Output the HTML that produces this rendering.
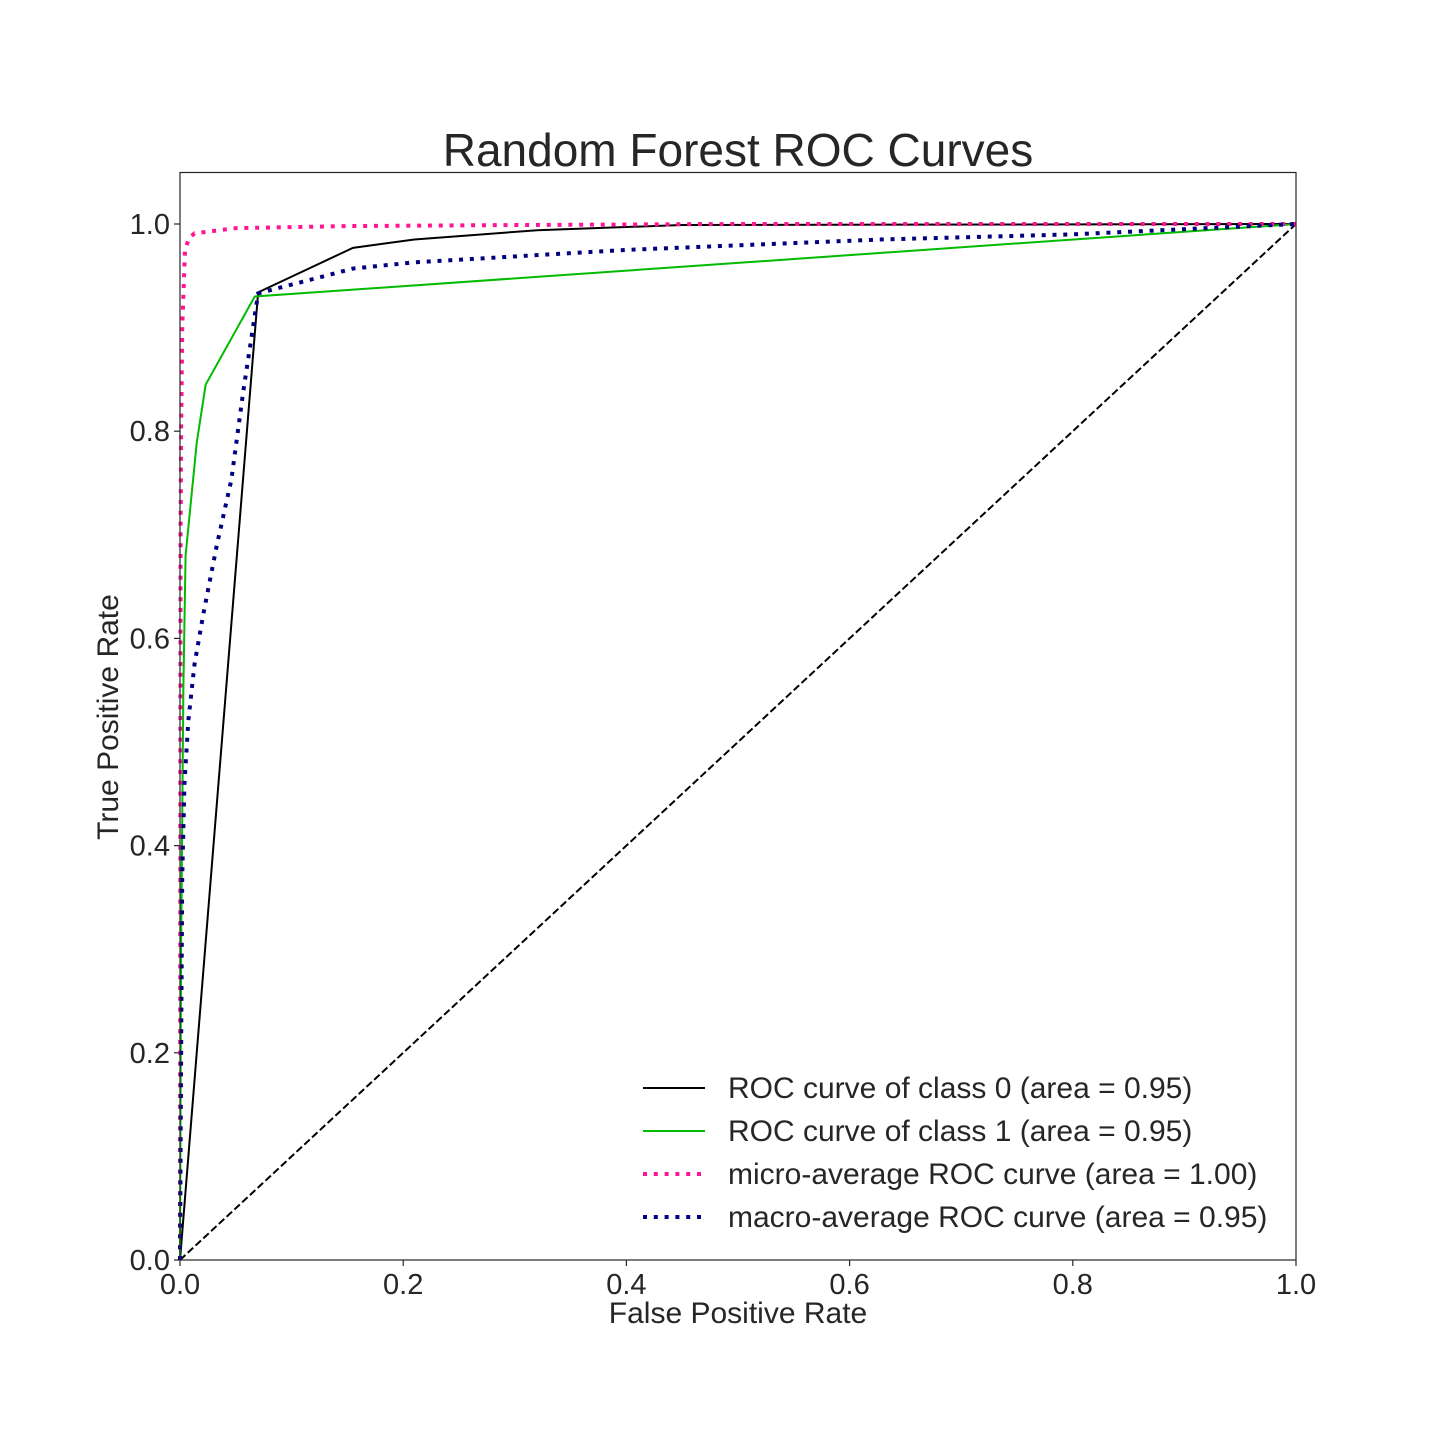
<!DOCTYPE html>
<html><head><meta charset="utf-8"><style>
body{margin:0;background:#fff}
svg text{font-family:"Liberation Sans",Arial,sans-serif;fill:#262626}
</style></head><body>
<svg width="1440" height="1440" xmlns="http://www.w3.org/2000/svg">
<rect width="1440" height="1440" fill="#fff"/>
<text x="738" y="166" font-size="46" text-anchor="middle">Random Forest ROC Curves</text>
<g id="plot"></g>
<rect x="180" y="172.5" width="1116" height="1087.5" fill="none" stroke="#262626" stroke-width="1.2"/>
<text x="738" y="1323" font-size="30" text-anchor="middle">False Positive Rate</text>
<text x="0" y="0" font-size="30" text-anchor="middle" transform="translate(118,717) rotate(-90)">True Positive Rate</text>
<g id="legend"></g>
</svg>
<script>
const ticks=[0,0.2,0.4,0.6,0.8,1.0];
const tickLabels=["0.0","0.2","0.4","0.6","0.8","1.0"];
const class0X=[0,0.07,0.155,0.21,0.32,0.45,1];
const class0Y=[0,0.934,0.977,0.985,0.994,0.999,1];
const class1X=[0,0.001,0.003,0.005,0.015,0.023,0.067,1];
const class1Y=[0,0.3,0.55,0.68,0.789,0.845,0.93,1];
const microX=[0,0.0005,0.001,0.002,0.0045,0.008,0.013,0.05,0.15,0.3,0.5,1];
const microY=[0,0.7,0.8,0.9,0.975,0.986,0.991,0.996,0.998,0.999,1,1];
const macroX=[0,0.001,0.002,0.004,0.0075,0.013,0.021,0.033,0.046,0.0565,0.07,0.155,0.21,0.4,0.627,0.8,1];
const macroY=[0,0.2,0.37,0.46,0.521,0.575,0.624,0.69,0.753,0.837,0.933,0.957,0.963,0.975,0.985,0.99,1];
const diagX=[0,1], diagY=[0,1];
const legendLabels=["ROC curve of class 0 (area = 0.95)","ROC curve of class 1 (area = 0.95)","micro-average ROC curve (area = 1.00)","macro-average ROC curve (area = 0.95)"];

const NS="http://www.w3.org/2000/svg";
const sx=v=>180+v*1116, sy=v=>1260-v*1036;
const plot=document.getElementById('plot');
function mk(tag,attrs,parent){const e=document.createElementNS(NS,tag);for(const k in attrs)e.setAttribute(k,attrs[k]);parent.appendChild(e);return e;}
ticks.forEach((t,i)=>{
  const a=mk('line',{x1:sx(t),x2:sx(t),y1:1260,y2:1266,stroke:'#262626','stroke-width':1.2},plot);
  
  
  const b=mk('text',{x:sx(t),y:1294,'font-size':29,'text-anchor':'middle'},plot);b.textContent=tickLabels[i];
  
  
  const c=mk('line',{x1:174,x2:180,y1:sy(t),y2:sy(t),stroke:'#262626','stroke-width':1.2},plot);
  
  
  const d=mk('text',{x:170,y:sy(t)+10,'font-size':29,'text-anchor':'end'},plot);d.textContent=tickLabels[i];
  
  
});
function line(xs,ys,style,name){
  const p=mk('polyline',Object.assign({points:xs.map((x,i)=>sx(x)+','+sy(ys[i])).join(' '),fill:'none'},style),plot);
  
  
}
const styles=[
 {stroke:'#000','stroke-width':2},
 {stroke:'#00bb00','stroke-width':2},
 {stroke:'#ff1493','stroke-width':4,'stroke-dasharray':'4 6.8'},
 {stroke:'#000080','stroke-width':4,'stroke-dasharray':'4 6.8'}];
line(diagX,diagY,{stroke:'#000','stroke-width':2,'stroke-dasharray':'7.4 3.2'},'diagonal-reference-line');
line(class0X,class0Y,styles[0],'class-0-roc-line');
line(class1X,class1Y,styles[1],'class-1-roc-line');
line(microX,microY,styles[2],'micro-average-line');
line(macroX,macroY,styles[3],'macro-average-line');
const lg=document.getElementById('legend');
legendLabels.forEach((l,i)=>{
  const y=1088+i*43;
  const ln=mk('line',Object.assign({x1:643,x2:705,y1:y,y2:y},styles[i]),lg);
  
  
  const t=mk('text',{x:728,y:y+10,'font-size':30},lg);t.textContent=l;
  
  
});
</script>
</body></html>
